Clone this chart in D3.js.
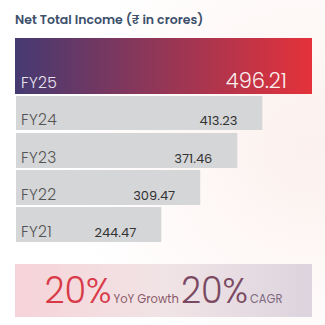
<!DOCTYPE html>
<html><head><meta charset="utf-8">
<script src="https://cdn.jsdelivr.net/npm/d3@7"></script>
<style>html,body{margin:0;padding:0;background:#fff;}svg{display:block;}</style>
</head><body>
<script>
const categories = ["FY25","FY24","FY23","FY22","FY21"];
const values = [496.21, 413.23, 371.46, 309.47, 244.47];
const valueLabels = ["496.21","413.23","371.46","309.47","244.47"];
const stats = [{big:"20%", small:"YoY Growth"},{big:"20%", small:"CAGR"}];
const title = "Net Total Income (₹ in crores)";

const W=325,H=325;
const font = "Poppins, 'Open Sans', Lato, sans-serif";
const svg = d3.select("body").append("svg").attr("width",W).attr("height",H);
const defs = svg.append("defs");
const bg = defs.append("radialGradient").attr("id","bg").attr("cx","0.95").attr("cy","0.45").attr("r","0.75");
bg.append("stop").attr("offset","0").attr("stop-color","#fcf1ee");
bg.append("stop").attr("offset","1").attr("stop-color","#ffffff");
svg.append("rect").attr("width",W).attr("height",H).attr("fill","url(#bg)");

const g1 = defs.append("linearGradient").attr("id","g1");
g1.append("stop").attr("offset","0").attr("stop-color","#453a72");
g1.append("stop").attr("offset","1").attr("stop-color","#e4323a");
const g2 = defs.append("linearGradient").attr("id","g2");
g2.append("stop").attr("offset","0").attr("stop-color","#f6d3d8");
g2.append("stop").attr("offset","0.5").attr("stop-color","#f1e4e6");
g2.append("stop").attr("offset","1").attr("stop-color","#dcd4de");

svg.append("text").attr("x",15).attr("y",24).attr("font-family",font).attr("font-size",12.5)
  .attr("font-weight",600).attr("fill","#3b4f6b").text(title);

const x = d3.scaleLinear().domain([0, d3.max(values)]).range([0, 297]);
const x0 = 15;
const tops = [38, 96, 133, 170, 207];
const heights = [56, 34, 35, 35, 35];

categories.forEach((c,i)=>{
  const first = i===0;
  svg.append("rect").attr("x",first?x0:x0+1).attr("y",tops[i])
    .attr("width",x(values[i])-(first?0:1)).attr("height",heights[i])
    .attr("fill",first?"url(#g1)":"#d5d6d8");
  const base = tops[i]+heights[i]-(first?6.5:5.5);
  svg.append("text").attr("x",21).attr("y",base).attr("font-family",font)
    .attr("font-size",15.5).attr("font-weight",300).attr("letter-spacing",0.3)
    .attr("fill",first?"#e8e4ee":"#555").text(c);
  svg.append("text").attr("x",x0+x(values[i])-25).attr("y",base).attr("text-anchor","end")
    .attr("font-family",font).attr("font-size",first?21:13).attr("font-weight",first?300:400)
    .attr("fill",first?"#fbeff0":"#333").text(valueLabels[i]);
});

svg.append("rect").attr("x",15).attr("y",264).attr("width",297).attr("height",53).attr("fill","url(#g2)");
const t = svg.append("text").attr("x",163.5).attr("y",303).attr("text-anchor","middle").attr("font-family",font);
t.append("tspan").attr("font-size",35).attr("font-weight",300).attr("fill","#d93a48").text(stats[0].big);
t.append("tspan").attr("font-size",11.5).attr("fill","#8a5a6a").attr("dx",2).text(stats[0].small);
t.append("tspan").attr("font-size",35).attr("font-weight",300).attr("fill","#7a4a62").attr("dx",2).text(stats[1].big);
t.append("tspan").attr("font-size",11.5).attr("fill","#7f6a80").attr("dx",2).text(stats[1].small);
</script>
</body></html>
